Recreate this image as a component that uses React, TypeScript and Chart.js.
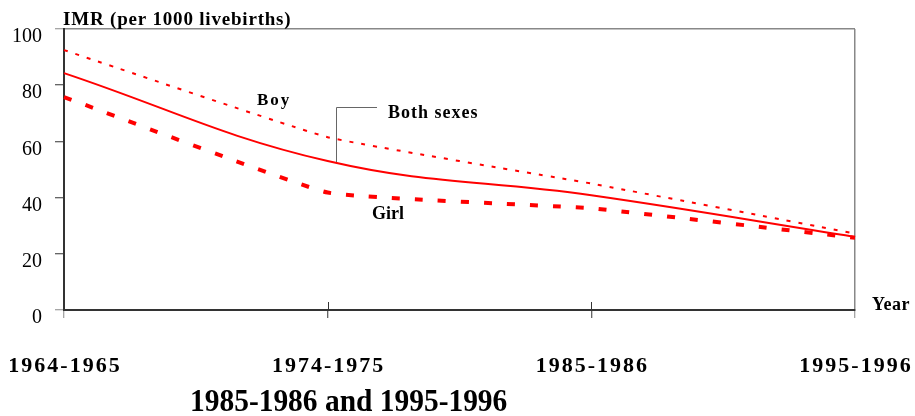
import React, { useEffect, useRef } from "react";
import { Chart, registerables } from "chart.js";

Chart.register(...registerables);

const categories = ["1964-1965", "1974-1975", "1985-1986", "1995-1996"];
const bothSexes = [84.3, 53, 40.8, 26];
const boy = [92.5, 61.5, 45, 27.2];
const girl = [75.8, 41.8, 36.2, 25.7];
const yTickValues = [0, 20, 40, 60, 80, 100];

const SERIF = '"Liberation Serif", "Times New Roman", serif';

const textPlugin = {
  id: "textPlugin",
  afterDraw(chart: any) {
    const { ctx, chartArea } = chart;
    const xs = chart.scales.x;
    ctx.save();
    // upward tick marks at inner categories
    ctx.strokeStyle = "#333";
    ctx.lineWidth = 1;
    for (let i = 1; i < categories.length - 1; i++) {
      const px = Math.round(xs.getPixelForTick(i)) + 0.5;
      ctx.beginPath();
      ctx.moveTo(px, chartArea.bottom - 8);
      ctx.lineTo(px, chartArea.bottom);
      ctx.stroke();
    }
    // x category labels
    ctx.fillStyle = "#000";
    ctx.textBaseline = "alphabetic";
    ctx.textAlign = "center";
    ctx.font = `bold 22px ${SERIF}`;
    ctx.letterSpacing = "2px";
    categories.forEach((c, i) => ctx.fillText(c, xs.getPixelForTick(i) + 1, 372));

    ctx.textAlign = "left";
    // y axis title
    ctx.font = `bold 19px ${SERIF}`;
    ctx.letterSpacing = "0.8px";
    ctx.fillText("IMR (per 1000 livebirths)", 63, 25);
    // x axis title
    ctx.font = `bold 18px ${SERIF}`;
    ctx.letterSpacing = "0.5px";
    ctx.fillText("Year", 872, 310);
    // series labels
    ctx.font = `bold 17px ${SERIF}`;
    ctx.letterSpacing = "2px";
    ctx.fillText("Boy", 257, 105);
    ctx.font = `bold 18px ${SERIF}`;
    ctx.letterSpacing = "1px";
    ctx.fillText("Both sexes", 388, 118);
    ctx.letterSpacing = "0px";
    ctx.fillText("Girl", 372, 219);
    // leader line
    ctx.strokeStyle = "#666";
    ctx.lineWidth = 1;
    ctx.beginPath();
    ctx.moveTo(336.5, 162);
    ctx.lineTo(336.5, 107.5);
    ctx.lineTo(377, 107.5);
    ctx.stroke();
    // bottom title
    ctx.save();
    ctx.translate(190, 411);
    ctx.scale(0.92, 1);
    ctx.font = `bold 32px ${SERIF}`;
    ctx.letterSpacing = "0px";
    ctx.fillText("1985-1986 and 1995-1996", 0, 0);
    ctx.restore();
    ctx.restore();
  },
};

export default function App() {
  const ref = useRef<HTMLCanvasElement>(null);
  useEffect(() => {
    if (!ref.current) return;
    const chart = new Chart(ref.current, {
      type: "line",
      data: {
        labels: categories,
        datasets: [
          {
            label: "Girl",
            data: girl,
            borderColor: "#ff0000",
            borderWidth: 4,
            borderDash: [8, 15],
            borderCapStyle: "butt",
            tension: 0.1,
            pointRadius: 0,
            fill: false,
          },
          {
            label: "Boy",
            data: boy,
            borderColor: "#ff0000",
            borderWidth: 2,
            borderDash: [4, 8],
            borderCapStyle: "butt",
            tension: 0.1,
            pointRadius: 0,
            fill: false,
          },
          {
            label: "Both sexes",
            data: bothSexes,
            borderColor: "#ff0000",
            borderWidth: 2,
            tension: 0.4,
            pointRadius: 0,
            fill: false,
          },
        ],
      },
      options: {
        animation: false,
        responsive: true,
        maintainAspectRatio: false,
        layout: { padding: { top: 29, right: 60, left: 0, bottom: 0 } },
        plugins: { legend: { display: false }, tooltip: { enabled: false }, title: { display: false } },
        scales: {
          x: {
            type: "category",
            offset: false,
            border: { display: true, color: "#333", width: 2 },
            grid: {
              drawOnChartArea: true,
              color: (c: any) => (c.index === categories.length - 1 ? "#888" : "transparent"),
              lineWidth: 1.5,
              tickLength: 8,
              tickWidth: 1,
              tickColor: (c: any) =>
                c.index === 0 || c.index === categories.length - 1 ? "#888" : "#333",
            },
            ticks: { display: false },
            afterFit: (s: any) => {
              s.height = 106;
            },
          },
          y: {
            min: 0,
            max: 100,
            afterBuildTicks: (s: any) => {
              s.ticks = yTickValues.map((v) => ({ value: v }));
            },
            border: { display: true, color: "#333", width: 2 },
            grid: {
              color: (c: any) => (c.tick && c.tick.value === 100 ? "#888" : "transparent"),
              lineWidth: 1.5,
              tickLength: 9,
              tickWidth: 1,
              tickColor: (c: any) =>
                c.tick && (c.tick.value === 100 || c.tick.value === 0) ? "#888" : "#333",
            },
            ticks: {
              color: "#000",
              font: { family: SERIF, size: 20 },
              padding: 13,
              labelOffset: 8,
            },
            afterFit: (s: any) => {
              s.width = 64;
            },
          },
        },
      },
      plugins: [textPlugin],
    });
    return () => chart.destroy();
  }, []);
  return (
    <div style={{ position: "absolute", left: 0, top: 0, width: 915, height: 416 }}>
      <canvas ref={ref} />
    </div>
  );
}
